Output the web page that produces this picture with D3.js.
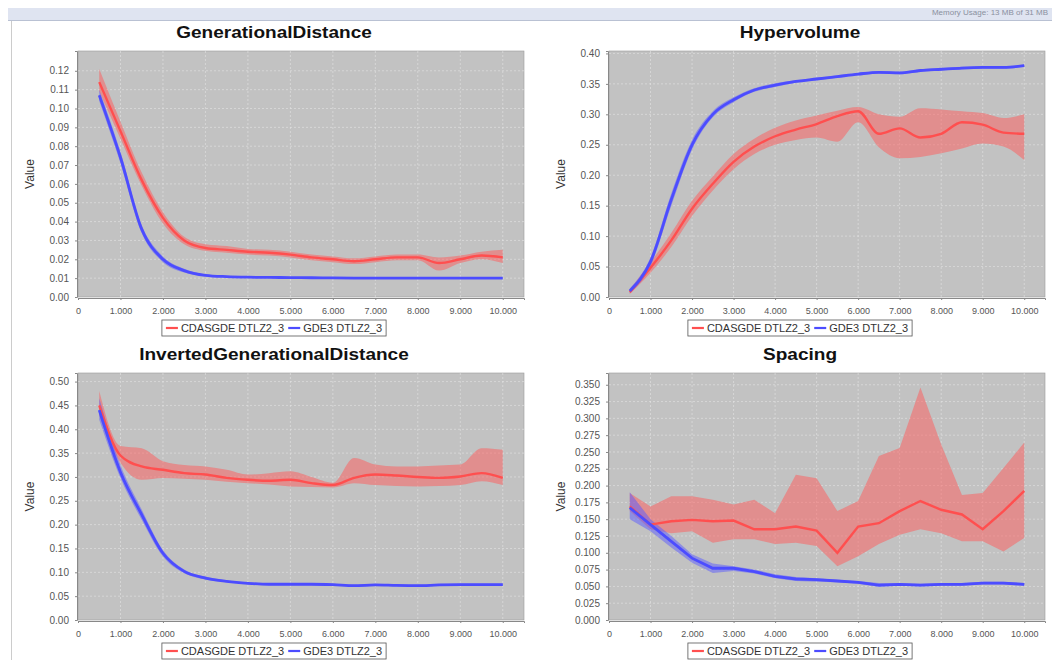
<!DOCTYPE html>
<html>
<head>
<meta charset="utf-8">
<script src="https://cdn.jsdelivr.net/npm/d3@7"></script>
<style>
  body { margin: 0; background: #fff; }
  svg { display: block; font-family: "Liberation Sans", Arial, sans-serif; }
</style>
</head>
<body>
<div id="chart"></div>
<script>
// evaluations (x values)
var evaluations = [500, 1000, 1500, 2000, 2500, 3000, 3500, 4000, 4500, 5000,
                   5500, 6000, 6500, 7000, 7500, 8000, 8500, 9000, 9500, 10000];
var xTicks = [0, 1000, 2000, 3000, 4000, 5000, 6000, 7000, 8000, 9000, 10000];
var seriesNames = ["CDASGDE DTLZ2_3", "GDE3 DTLZ2_3"];

// GenerationalDistance
var gdCdas   = [0.114, 0.088, 0.062, 0.042, 0.030, 0.026, 0.025, 0.024, 0.0235, 0.0225, 0.021, 0.020, 0.019, 0.020, 0.021, 0.021, 0.018, 0.020, 0.022, 0.021];
var gdCdasHi = [0.121, 0.093, 0.066, 0.045, 0.032, 0.028, 0.027, 0.0255, 0.025, 0.024, 0.0225, 0.0215, 0.0205, 0.0215, 0.0225, 0.0225, 0.021, 0.022, 0.024, 0.025];
var gdCdasLo = [0.109, 0.084, 0.059, 0.039, 0.028, 0.0245, 0.0235, 0.0225, 0.022, 0.021, 0.0195, 0.0185, 0.0175, 0.0185, 0.0195, 0.0195, 0.014, 0.018, 0.020, 0.018];
var gdGde3   = [0.107, 0.074, 0.036, 0.020, 0.014, 0.0115, 0.0108, 0.0105, 0.0104, 0.0103, 0.0102, 0.0101, 0.0100, 0.0100, 0.0100, 0.0100, 0.0100, 0.0100, 0.0100, 0.0100];
var gdGde3Hi = [0.110, 0.077, 0.038, 0.0215, 0.015, 0.012, 0.0112, 0.0108, 0.0106, 0.0105, 0.0104, 0.0103, 0.0102, 0.0102, 0.0102, 0.0102, 0.0102, 0.0102, 0.0102, 0.0102];
var gdGde3Lo = [0.104, 0.071, 0.034, 0.0185, 0.013, 0.011, 0.0104, 0.0102, 0.0101, 0.0100, 0.0099, 0.0099, 0.0098, 0.0098, 0.0098, 0.0098, 0.0098, 0.0098, 0.0098, 0.0098];
var gdTicks  = [0, 0.01, 0.02, 0.03, 0.04, 0.05, 0.06, 0.07, 0.08, 0.09, 0.10, 0.11, 0.12];

// Hypervolume
var hvCdas   = [0.008, 0.048, 0.093, 0.145, 0.186, 0.222, 0.247, 0.264, 0.275, 0.284, 0.297, 0.305, 0.268, 0.277, 0.262, 0.268, 0.287, 0.283, 0.270, 0.268];
var hvCdasHi = [0.012, 0.057, 0.105, 0.158, 0.198, 0.235, 0.260, 0.278, 0.290, 0.298, 0.306, 0.312, 0.300, 0.296, 0.310, 0.308, 0.305, 0.302, 0.294, 0.300];
var hvCdasLo = [0.005, 0.040, 0.082, 0.133, 0.175, 0.210, 0.235, 0.250, 0.258, 0.262, 0.255, 0.287, 0.246, 0.228, 0.230, 0.236, 0.244, 0.252, 0.247, 0.225];
var hvGde3   = [0.010, 0.058, 0.160, 0.250, 0.300, 0.324, 0.340, 0.348, 0.354, 0.358, 0.362, 0.366, 0.369, 0.368, 0.372, 0.374, 0.376, 0.377, 0.377, 0.380];
var hvGde3Hi = [0.014, 0.065, 0.170, 0.258, 0.305, 0.328, 0.343, 0.351, 0.356, 0.360, 0.364, 0.368, 0.371, 0.370, 0.374, 0.376, 0.378, 0.379, 0.379, 0.382];
var hvGde3Lo = [0.006, 0.051, 0.150, 0.242, 0.295, 0.320, 0.337, 0.345, 0.352, 0.356, 0.360, 0.364, 0.367, 0.366, 0.370, 0.372, 0.374, 0.375, 0.375, 0.378];
var hvTicks  = [0, 0.05, 0.10, 0.15, 0.20, 0.25, 0.30, 0.35, 0.40];

// InvertedGenerationalDistance
var igdCdas   = [0.450, 0.345, 0.322, 0.315, 0.308, 0.305, 0.298, 0.294, 0.292, 0.294, 0.287, 0.283, 0.298, 0.305, 0.303, 0.300, 0.298, 0.301, 0.308, 0.298];
var igdCdasHi = [0.480, 0.365, 0.360, 0.333, 0.325, 0.322, 0.315, 0.305, 0.308, 0.312, 0.300, 0.288, 0.340, 0.326, 0.322, 0.322, 0.324, 0.326, 0.360, 0.357];
var igdCdasLo = [0.430, 0.330, 0.294, 0.298, 0.296, 0.294, 0.290, 0.287, 0.284, 0.280, 0.279, 0.278, 0.287, 0.283, 0.281, 0.280, 0.281, 0.283, 0.291, 0.283];
var igdGde3   = [0.440, 0.310, 0.221, 0.140, 0.102, 0.088, 0.081, 0.077, 0.075, 0.075, 0.075, 0.074, 0.072, 0.0735, 0.0725, 0.072, 0.0735, 0.074, 0.074, 0.074];
var igdGde3Hi = [0.465, 0.325, 0.232, 0.147, 0.106, 0.091, 0.083, 0.079, 0.077, 0.077, 0.077, 0.076, 0.074, 0.075, 0.074, 0.074, 0.075, 0.076, 0.076, 0.076];
var igdGde3Lo = [0.420, 0.298, 0.210, 0.133, 0.098, 0.085, 0.079, 0.075, 0.073, 0.073, 0.073, 0.072, 0.070, 0.072, 0.071, 0.070, 0.072, 0.072, 0.072, 0.072];
var igdTicks  = [0, 0.05, 0.10, 0.15, 0.20, 0.25, 0.30, 0.35, 0.40, 0.45, 0.50];

// Spacing
var spCdas   = [0.169, 0.142, 0.147, 0.149, 0.147, 0.148, 0.135, 0.135, 0.139, 0.133, 0.100, 0.139, 0.144, 0.162, 0.177, 0.164, 0.157, 0.135, 0.162, 0.192];
var spCdasHi = [0.189, 0.169, 0.184, 0.184, 0.179, 0.172, 0.179, 0.159, 0.216, 0.211, 0.162, 0.177, 0.244, 0.256, 0.346, 0.261, 0.186, 0.189, 0.226, 0.264];
var spCdasLo = [0.162, 0.135, 0.129, 0.132, 0.115, 0.120, 0.120, 0.113, 0.115, 0.110, 0.080, 0.095, 0.113, 0.127, 0.135, 0.129, 0.117, 0.117, 0.102, 0.122];
var spGde3   = [0.167, 0.142, 0.117, 0.092, 0.077, 0.077, 0.072, 0.065, 0.061, 0.060, 0.058, 0.056, 0.052, 0.053, 0.052, 0.053, 0.053, 0.055, 0.055, 0.053];
var spGde3Hi = [0.190, 0.150, 0.125, 0.098, 0.084, 0.080, 0.075, 0.068, 0.064, 0.062, 0.060, 0.058, 0.055, 0.055, 0.054, 0.055, 0.055, 0.057, 0.057, 0.055];
var spGde3Lo = [0.150, 0.132, 0.108, 0.085, 0.070, 0.073, 0.069, 0.062, 0.058, 0.057, 0.056, 0.054, 0.049, 0.051, 0.050, 0.051, 0.051, 0.053, 0.053, 0.051];
var spTicks  = [0, 0.025, 0.05, 0.075, 0.10, 0.125, 0.15, 0.175, 0.20, 0.225, 0.25, 0.275, 0.30, 0.325, 0.35];

var colors = { line: ["#ff4f4f", "#4c4cff"], band: ["#ff5a5a", "#5a5aff"] };

var panels = [
  { title: "GenerationalDistance", left: 78, right: 524, top: 51, bottom: 297, yMax: 0.1305, ticks: gdTicks, fmt: ".2f", smooth: true,
    data: [[gdCdas, gdCdasLo, gdCdasHi], [gdGde3, gdGde3Lo, gdGde3Hi]] },
  { title: "Hypervolume", left: 609, right: 1045, top: 51, bottom: 297, yMax: 0.404, ticks: hvTicks, fmt: ".2f", smooth: true,
    data: [[hvCdas, hvCdasLo, hvCdasHi], [hvGde3, hvGde3Lo, hvGde3Hi]] },
  { title: "InvertedGenerationalDistance", left: 78, right: 524, top: 373, bottom: 620, yMax: 0.518, ticks: igdTicks, fmt: ".2f", smooth: true,
    data: [[igdCdas, igdCdasLo, igdCdasHi], [igdGde3, igdGde3Lo, igdGde3Hi]] },
  { title: "Spacing", left: 609, right: 1045, top: 373, bottom: 620, yMax: 0.3675, ticks: spTicks, fmt: ".3f", smooth: false,
    data: [[spCdas, spCdasLo, spCdasHi], [spGde3, spGde3Lo, spGde3Hi]] }
];

var W = 1052, H = 660;
var svg = d3.select("#chart").append("svg").attr("width", W).attr("height", H);

// window strip at the top
svg.append("rect").attr("x", 8).attr("y", 8).attr("width", W - 8).attr("height", 12).attr("fill", "#dfe4f1");
svg.append("line").attr("x1", 8).attr("x2", W).attr("y1", 20.5).attr("y2", 20.5).attr("stroke", "#b9c1d3");
svg.append("text").attr("x", 1048).attr("y", 15).attr("text-anchor", "end")
  .style("font-size", "8px").attr("fill", "#8a90a0").text("Memory Usage: 13 MB of 31 MB");
svg.append("line").attr("x1", 11.5).attr("x2", 11.5).attr("y1", 21).attr("y2", H).attr("stroke", "#cccccc");

var xFmt = function (d) { return d3.format(",")(d).replace(/,/g, "."); };

panels.forEach(function (p, pi) {
  var x = d3.scaleLinear().domain([0, 10500]).range([p.left, p.right]);
  var y = d3.scaleLinear().domain([0, p.yMax]).range([p.bottom, p.top]);
  var g = svg.append("g");

  g.append("clipPath").attr("id", "clip" + pi)
    .append("rect").attr("x", p.left).attr("y", p.top)
    .attr("width", p.right - p.left).attr("height", p.bottom - p.top);

  // plot background
  g.append("rect")
    .attr("x", p.left).attr("y", p.top)
    .attr("width", p.right - p.left).attr("height", p.bottom - p.top)
    .attr("fill", "#c2c2c2").attr("stroke", "#9a9a9a").attr("stroke-width", 0.6);

  // grid lines
  g.append("g").selectAll("line").data(xTicks.slice(1)).enter().append("line")
    .attr("x1", function (d) { return x(d); }).attr("x2", function (d) { return x(d); })
    .attr("y1", p.top).attr("y2", p.bottom)
    .attr("stroke", "#e4e4e4").attr("stroke-width", 0.6).attr("stroke-dasharray", "2,2");
  g.append("g").selectAll("line").data(p.ticks.slice(1)).enter().append("line")
    .attr("x1", p.left).attr("x2", p.right)
    .attr("y1", function (d) { return y(d); }).attr("y2", function (d) { return y(d); })
    .attr("stroke", "#e4e4e4").attr("stroke-width", 0.6).attr("stroke-dasharray", "2,2");

  // axes
  var ax = g.append("g").attr("transform", "translate(0," + (p.bottom + 1) + ")")
    .call(d3.axisBottom(x).tickValues(xTicks).tickFormat(xFmt).tickSize(2).tickPadding(8));
  ax.select(".domain").attr("stroke", "#888");
  ax.selectAll(".tick line").attr("stroke", "#888");
  ax.selectAll("text").style("font-size", "9px").attr("fill", "#555");

  var ay = g.append("g").attr("transform", "translate(" + (p.left - 1) + ",0)")
    .call(d3.axisLeft(y).tickValues(p.ticks).tickFormat(d3.format(p.fmt)).tickSize(2).tickPadding(6));
  ay.select(".domain").attr("stroke", "#888");
  ay.selectAll(".tick line").attr("stroke", "#888");
  ay.selectAll("text").style("font-size", "10px").attr("fill", "#555");

  // bands then lines
  var curve = p.smooth ? d3.curveMonotoneX : d3.curveLinear;
  var plot = g.append("g").attr("clip-path", "url(#clip" + pi + ")");
  var area = d3.area().curve(curve)
    .x(function (d) { return x(d.x); })
    .y0(function (d) { return y(d.lo); })
    .y1(function (d) { return y(d.hi); });
  var line = d3.line().curve(curve)
    .x(function (d) { return x(d.x); })
    .y(function (d) { return y(d.m); });

  var rows = p.data.map(function (s) {
    return evaluations.map(function (e, i) { return { x: e, m: s[0][i], lo: s[1][i], hi: s[2][i] }; });
  });
  rows.forEach(function (r, si) {
    plot.append("path").datum(r).attr("d", area)
      .attr("fill", colors.band[si]).attr("fill-opacity", 0.5);
  });
  rows.forEach(function (r, si) {
    plot.append("path").datum(r).attr("d", line)
      .attr("fill", "none").attr("stroke", colors.line[si]).attr("stroke-width", si ? 2.8 : 2.4);
  });

  var cx = (p.left + p.right) / 2 - 27;

  // title
  g.append("text")
    .attr("transform", "translate(" + cx + "," + (p.top - 13) + ") scale(1.12,1)")
    .attr("text-anchor", "middle")
    .style("font-size", "17px").style("font-weight", "bold").attr("fill", "#111")
    .text(p.title);

  // y axis label
  g.append("text")
    .attr("transform", "translate(" + (p.left - 44) + "," + ((p.top + p.bottom) / 2) + ") rotate(-90)")
    .attr("text-anchor", "middle")
    .style("font-size", "12px").attr("fill", "#333")
    .text("Value");

  // legend
  var leg = g.append("g");
  var box = leg.append("rect").attr("fill", "#fff").attr("stroke", "#555").attr("stroke-width", 0.8);
  var cursor = 0;
  seriesNames.forEach(function (name, si) {
    leg.append("line").attr("x1", cursor + 4).attr("x2", cursor + 16).attr("y1", 0).attr("y2", 0)
      .attr("stroke", colors.line[si]).attr("stroke-width", 2.2);
    var t = leg.append("text").attr("x", cursor + 19).attr("y", 4)
      .style("font-size", "11px").attr("fill", "#333").text(name);
    cursor += 19 + t.node().getComputedTextLength();
  });
  var lw = cursor + 4;
  box.attr("x", 0).attr("y", -8).attr("width", lw).attr("height", 16);
  leg.attr("transform", "translate(" + (cx - lw / 2) + "," + (p.bottom + 31) + ")");
});
</script>
</body>
</html>
